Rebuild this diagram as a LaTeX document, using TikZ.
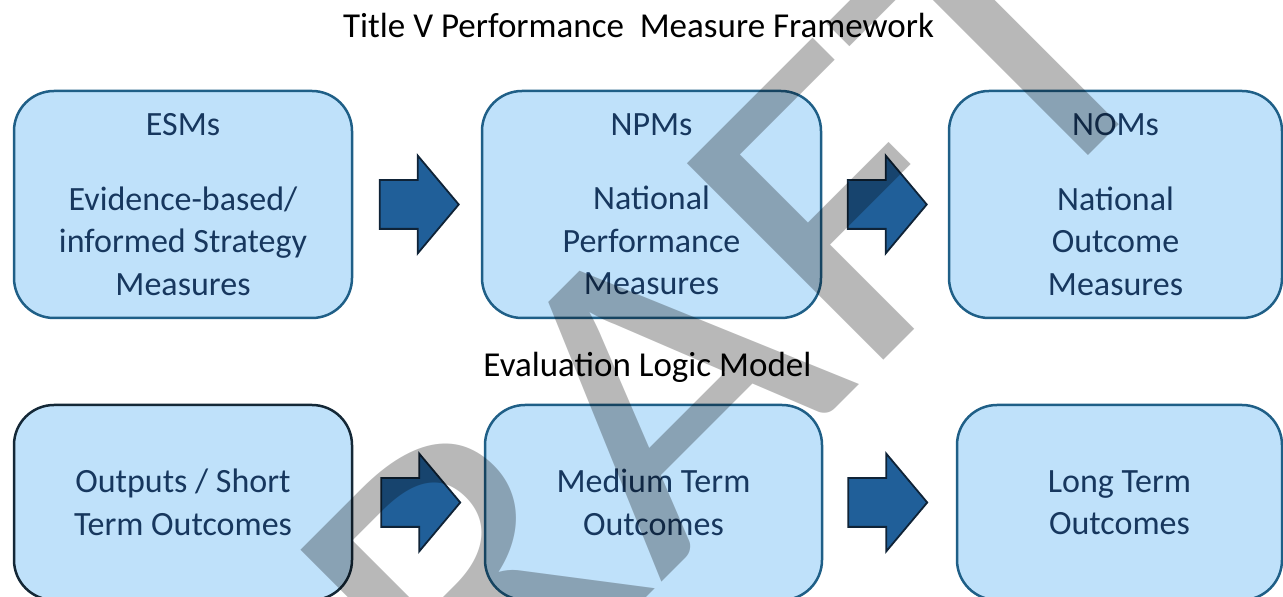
\documentclass[tikz,border=0pt]{standalone}
\usepackage{fontspec}
\setmainfont{Carlito}
\usetikzlibrary{shapes.arrows,calc}
\definecolor{boxfill}{RGB}{191,225,250}
\definecolor{boxline}{RGB}{31,95,135}
\definecolor{darkline}{RGB}{20,40,55}
\definecolor{boxtext}{RGB}{23,55,94}
\definecolor{arrfill}{RGB}{32,95,153}
\definecolor{arrline}{RGB}{15,35,55}
\begin{document}
\begin{tikzpicture}[x=1pt,y=1pt]
  \tikzstyle{box}=[draw=boxline,fill=boxfill,line width=2.5pt,rounded corners=40pt,
    text=boxtext,align=center,inner sep=0pt,font=\fontsize{34}{42.5}\selectfont]
  \tikzstyle{bigarrow}=[single arrow,draw=arrline,fill=arrfill,line width=1.8pt,
    text height=23.5pt,text depth=23.5pt,inner sep=0pt,minimum height=79pt,
    minimum width=96pt,single arrow head extend=24.5pt,single arrow tip angle=100,
    xshift=-8pt]
  \tikzstyle{heading}=[anchor=base,font=\fontsize{35}{42}\selectfont]
  \useasboundingbox (0,0) rectangle (1283,597);
  % performance measures
  \node[heading] (title) at (638.5,559.7) {Title V Performance\ \ Measure Framework};
  \node[box,minimum width=338pt,minimum height=227pt] (esm) at (183,392.5)
    {ESMs\\[31.8pt] Evidence-based/\\ informed Strategy\\ Measures};
  \node[box,minimum width=339pt,minimum height=227pt] (npm) at (651.5,392.5)
    {NPMs\\[31.8pt] National\\ Performance\\ Measures};
  \node[box,minimum width=333pt,minimum height=227pt] (nom) at (1115.5,392.5)
    {NOMs\\[31.8pt] National\\ Outcome\\ Measures};
  \node[bigarrow] (a1) at ($(esm.east)!.5!(npm.west)$) {};
  \node[bigarrow] (a2) at ($(npm.east)!.5!(nom.west)$) {};
  % logic model
  \node[heading] (logic) at (647.5,220.3) {Evaluation Logic Model};
  \node[box,draw=darkline,minimum width=338pt,minimum height=195pt] (outp) at (183,94.5)
    {Outputs / Short\\ Term Outcomes};
  \node[box,minimum width=337pt,minimum height=195pt] (medt) at (653.5,94.5)
    {Medium Term\\ Outcomes};
  \node[box,minimum width=325pt,minimum height=195pt] (longt) at (1119.5,94.5)
    {Long Term\\ Outcomes};
  \node[bigarrow] (a3) at ($(outp.east)!.5!(medt.west)$) {};
  \node[bigarrow,xshift=-4pt] (a4) at ($(medt.east)!.5!(longt.west)$) {};
  % watermark
  \node[rotate=45,xscale=1.13,inner sep=0pt,text=black,text opacity=0.28,
    font=\fontsize{433}{433}\selectfont] (draft) at (626,175) {DRAFT};
\end{tikzpicture}
\end{document}
